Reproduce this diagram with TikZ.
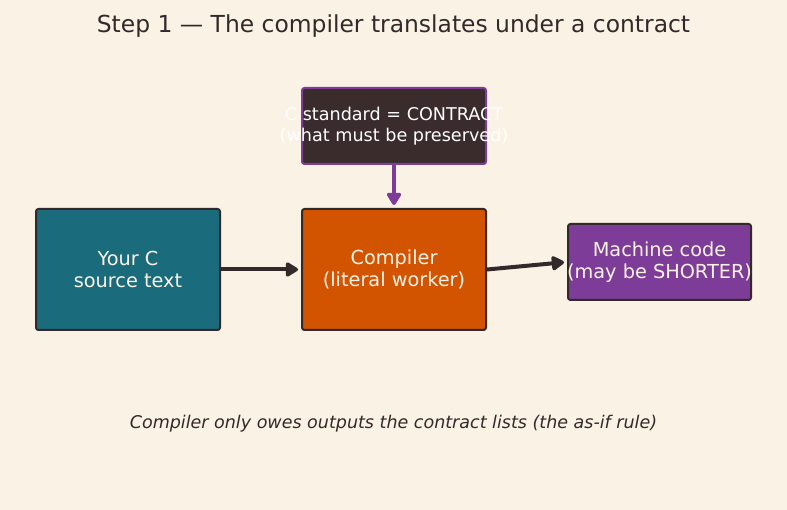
\documentclass[tikz,border=0pt]{standalone}
\usepackage{fontspec}
\setmainfont{DejaVu Sans}
\usetikzlibrary{arrows.meta}
\definecolor{bg}{HTML}{FAF2E4}
\definecolor{ink}{HTML}{33292A}
\definecolor{teal}{HTML}{1A6B7C}
\definecolor{orng}{HTML}{D35400}
\definecolor{purp}{HTML}{7D3C98}
\definecolor{dark}{HTML}{3A2C2C}
\definecolor{cream}{HTML}{FBF3E6}
\begin{document}
\begin{tikzpicture}[x=1pt,y=-1pt,
  box/.style={draw=ink, line width=2pt, rounded corners=2.5pt, inner sep=0pt},
  lbl/.style={text=cream, align=center, inner sep=0pt, font=\fontsize{19.3}{22}\selectfont},
  conn/.style={line width=4pt, draw=ink, shorten >=3pt, -{Triangle[length=14pt,width=16pt,round]}},
]
\fill[bg] (0,0) rectangle (787,510);
\node[text=ink, font=\fontsize{23.4}{27}\selectfont] (title) at (393.5,26.5) {Step 1 — The compiler translates under a contract};
\node[box, fill=teal, minimum width=184pt, minimum height=121pt] (src) at (128,269.5) {};
\node[lbl] (srct) at (src.center) {Your C\\source text};
\node[box, fill=orng, minimum width=184pt, minimum height=121pt] (comp) at (394,269.5) {};
\node[lbl] (compt) at (comp.center) {Compiler\\(literal worker)};
\node[box, draw=purp, fill=dark, minimum width=184pt, minimum height=76pt] (std) at (394,126) {};
\node[lbl, text=white, font=\fontsize{17.6}{20.5}\selectfont] (stdt) at (std.center) {C standard = CONTRACT\\(what must be preserved)};
\node[box, fill=purp, minimum width=183pt, minimum height=76pt] (mc) at (659.5,262) {};
\node[lbl] (mct) at (mc.center) {Machine code\\(may be SHORTER)};
\draw[conn] (src.east) -- (comp.west);
\draw[conn, draw=purp] (std.south) -- (comp.north);
\draw[conn] (comp.east) -- (mc.west);
\node[text=ink, font=\fontsize{17.5}{20}\selectfont\itshape] (cap) at (393.5,424) {Compiler only owes outputs the contract lists (the as-if rule)};
\end{tikzpicture}
\end{document}
